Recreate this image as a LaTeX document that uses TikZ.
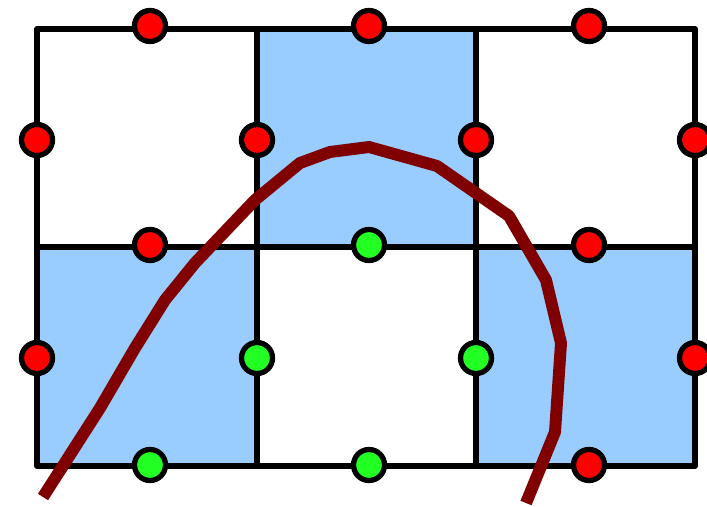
\documentclass[tikz,border=0pt]{standalone}
\usepackage{xcolor}
\usepackage{tikz}
\usetikzlibrary{positioning}
\definecolor{cellblue}{HTML}{99CCFF}
\definecolor{dotred}{HTML}{FF0000}
\definecolor{dotgreen}{HTML}{22FF22}
\definecolor{curvered}{HTML}{800000}

\begin{document}
\begin{tikzpicture}[x=0.01cm, y=-0.01cm,
    gridline/.style={line width=1.7pt, line cap=round, line join=round},
    outdot/.style={circle, draw, line width=1.5pt, fill=dotred, minimum size=0.31cm, inner sep=0pt},
    indot/.style={circle, draw, line width=1.5pt, fill=dotgreen, minimum size=0.31cm, inner sep=0pt}]
  \useasboundingbox (0,0) rectangle (707,507);

  % Gefuellte Zellen
  \fill[cellblue] (257,29) rectangle (476,247);
  \fill[cellblue] (37,247) rectangle (257,466);
  \fill[cellblue] (476,247) rectangle (695,466);

  % Gitter
  \draw[gridline] (37,29) rectangle (695,466);
  \draw[gridline] (257,29) -- (257,466);
  \draw[gridline] (476,29) -- (476,466);
  \draw[gridline] (37,247) -- (695,247);

  % Kurve
  \draw[curvered, line width=3.4pt, line join=round]
    (43,497) -- (100,408) -- (135,348) -- (165,300) -- (195,263) -- (255,200)
    -- (300,163) -- (330,152) -- (369,147) -- (437,166) -- (509,216)
    -- (546,280) -- (561,343) -- (555,432) -- (526,503);

  % Kantenmitten
  \node[outdot] (t1) at (150,26) {};
  \node[outdot] (t2) at (369,26) {};
  \node[outdot] (t3) at (589,26) {};
  \node[outdot] (a0) at (37,140) {};
  \node[outdot] (a1) at (257,140) {};
  \node[outdot] (a2) at (476,140) {};
  \node[outdot] (a3) at (695,140) {};
  \node[outdot] (m1) at (150,245) {};
  \node[indot]  (m2) at (369,245) {};
  \node[outdot] (m3) at (589,245) {};
  \node[outdot] (b0) at (37,358) {};
  \node[indot]  (b1) at (257,358) {};
  \node[indot]  (b2) at (476,358) {};
  \node[outdot] (b3) at (695,358) {};
  \node[indot]  (u1) at (150,465) {};
  \node[indot]  (u2) at (369,465) {};
  \node[outdot] (u3) at (589,465) {};
\end{tikzpicture}
\end{document}
